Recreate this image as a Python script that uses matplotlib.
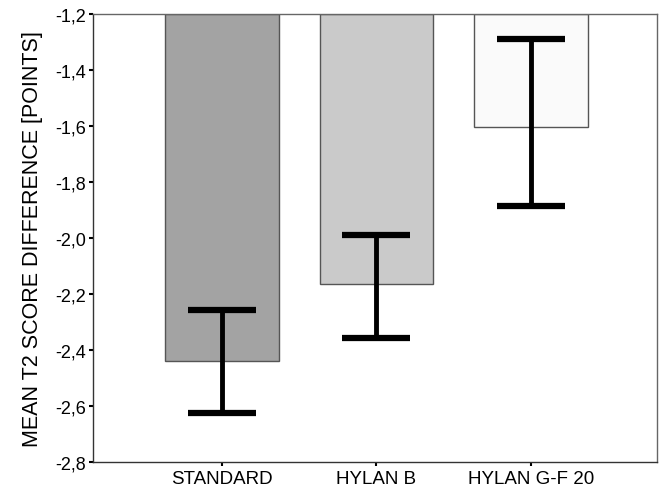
import matplotlib
matplotlib.use("Agg")
import matplotlib.pyplot as plt
from matplotlib.ticker import FuncFormatter

groups = ["STANDARD", "HYLAN B", "HYLAN G-F 20"]
means = [-2.44, -2.165, -1.605]
ci_upper = [-2.257, -1.989, -1.289]
ci_lower = [-2.625, -2.357, -1.886]
bar_colors = ["#a3a3a3", "#cacaca", "#fafafa"]
yticks = [-2.8, -2.6, -2.4, -2.2, -2.0, -1.8, -1.6, -1.4, -1.2]

base = -1.2

plt.rcParams['font.family'] = ['Liberation Sans', 'DejaVu Sans']

fig = plt.figure(figsize=(6.61, 4.89), dpi=100)
ax = fig.add_axes([0.1407, 0.0532, 0.853, 0.916])

x = [1, 2, 3]
heights = [m - base for m in means]
ax.bar(x, heights, bottom=base, width=0.735, color=bar_colors,
       edgecolor="#555555", linewidth=1.0, zorder=2)

for xi, lo, hi in zip(x, ci_lower, ci_upper):
    ax.plot([xi, xi], [lo, hi], color="black", lw=3.5, zorder=3, solid_capstyle="butt")
    ax.plot([xi - 0.22, xi + 0.22], [hi, hi], color="black", lw=4.5, zorder=3, solid_capstyle="butt")
    ax.plot([xi - 0.22, xi + 0.22], [lo, lo], color="black", lw=4.5, zorder=3, solid_capstyle="butt")

ax.set_xlim(0.165, 3.815)
ax.set_ylim(-2.8, -1.2)
ax.set_yticks(yticks)
ax.yaxis.set_major_formatter(FuncFormatter(lambda v, p: ("%.1f" % v).replace(".", ",")))
ax.set_xticks(x)
ax.set_xticklabels(groups)

for s in ax.spines.values():
    s.set_color("#666666")
    s.set_linewidth(1.0)
ax.spines['left'].set_color("#333333")
ax.spines['bottom'].set_color("#333333")

ax.tick_params(axis="y", direction="out", length=3, width=1.5, labelsize=13, pad=2)
ax.tick_params(axis="x", direction="out", length=3, width=1.5, labelsize=13.5, pad=3)
ax.set_ylabel("MEAN T2 SCORE DIFFERENCE [POINTS]", fontsize=15.5, labelpad=9)

fig.savefig("out.png", dpi=100)
